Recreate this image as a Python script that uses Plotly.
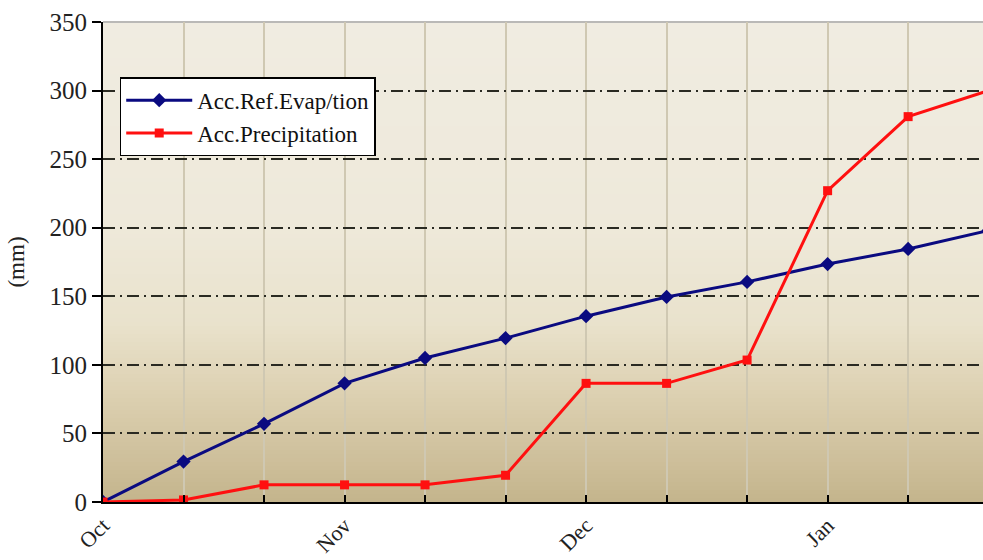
import plotly.graph_objects as go

# ---- data (dekads from 1 Oct) ----
dekads = ["Oct 1", "Oct 11", "Oct 21", "Nov 1", "Nov 11", "Nov 21",
          "Dec 1", "Dec 11", "Dec 21", "Jan 1", "Jan 11", "Jan 21"]
acc_ref_evap = [0, 29.5, 57, 86.5, 105, 119.5, 135.5, 149.5, 160.5, 173.5, 184.5, 198]
acc_precip = [0, 1.5, 12.5, 12.5, 12.5, 19.5, 86.5, 86.5, 103.5, 227, 281, 300]
month_labels = ["Oct", "", "", "Nov", "", "", "Dec", "", "", "Jan", "", ""]
y_ticks = [0, 50, 100, 150, 200, 250, 300, 350]

x_idx = list(range(len(dekads)))
FONT = "Liberation Serif"

fig = go.Figure()
fig.add_trace(go.Scatter(
    x=x_idx, y=acc_ref_evap, name="Acc.Ref.Evap/tion", mode="lines+markers",
    line=dict(color="#0a0a80", width=3),
    marker=dict(symbol="diamond", size=11, color="#0a0a80"),
    text=dekads, hoverinfo="text+y"))
fig.add_trace(go.Scatter(
    x=x_idx, y=acc_precip, name="Acc.Precipitation", mode="lines+markers",
    line=dict(color="#ff1010", width=3),
    marker=dict(symbol="square", size=9, color="#ff1010"),
    text=dekads, hoverinfo="text+y"))

# ---- background gradient (styling only) ----
stops = [(0.0, (196, 180, 140)), (80/350, (221, 209, 178)), (130/350, (233, 226, 204)),
         (200/350, (238, 233, 218)), (1.0, (240, 236, 225))]
def col(f):
    for (a, ca), (b, cb) in zip(stops[:-1], stops[1:]):
        if a <= f <= b:
            t = (f - a) / (b - a) if b > a else 0
            c = [round(ca[i] + t * (cb[i] - ca[i])) for i in range(3)]
            return f"rgb({c[0]},{c[1]},{c[2]})"
    return "rgb(240,236,225)"

shapes = []
N = 120
for i in range(N):
    f0, f1 = i / N, (i + 1) / N
    shapes.append(dict(type="rect", xref="paper", yref="paper", x0=0, x1=1,
                       y0=f0, y1=f1 + 0.002, fillcolor=col((f0 + f1) / 2),
                       line=dict(width=0), layer="below"))
shapes.append(dict(type="line", xref="paper", yref="paper", x0=0, x1=1, y0=1, y1=1,
                   line=dict(color="#a8a8a8", width=1.5), layer="below"))

fig.update_layout(
    width=983, height=560,
    margin=dict(l=103, r=0, t=22, b=58),
    paper_bgcolor="white", plot_bgcolor="rgba(0,0,0,0)",
    font=dict(family=FONT, size=22, color="#222"),
    shapes=shapes,
    showlegend=True,
    legend=dict(x=0.019, y=0.885, xanchor="left", yanchor="top",
                bgcolor="white", bordercolor="black", borderwidth=1.5,
                font=dict(family=FONT, size=23, color="#111"),
                tracegroupgap=0, itemwidth=66),
    xaxis=dict(range=[0, 10.93], tickmode="array", tickvals=x_idx, ticktext=month_labels,
               tickangle=-45, ticks="inside", ticklen=7, tickwidth=1.5, tickcolor="black",
               showline=True, linecolor="black", linewidth=2, automargin=False,
               showgrid=True, gridcolor="#cfc8b2", gridwidth=1.5,
               zeroline=False, tickfont=dict(family=FONT, size=22, color="#222")),
    yaxis=dict(range=[0, 350], tickvals=y_ticks, ticks="outside", ticklen=9,
               tickwidth=1.5, tickcolor="black", automargin=False,
               showline=True, linecolor="black", linewidth=2,
               showgrid=True, gridcolor="#2a2a22", gridwidth=2,
               griddash="12px,5px,2px,5px", zeroline=False,
               title=dict(text="(mm)", font=dict(family=FONT, size=23, color="#222"), standoff=18),
               tickfont=dict(family=FONT, size=25, color="#222")),
)

fig.write_html("out.html", config={"displayModeBar": False},
               post_script="document.body.style.margin='0';")
